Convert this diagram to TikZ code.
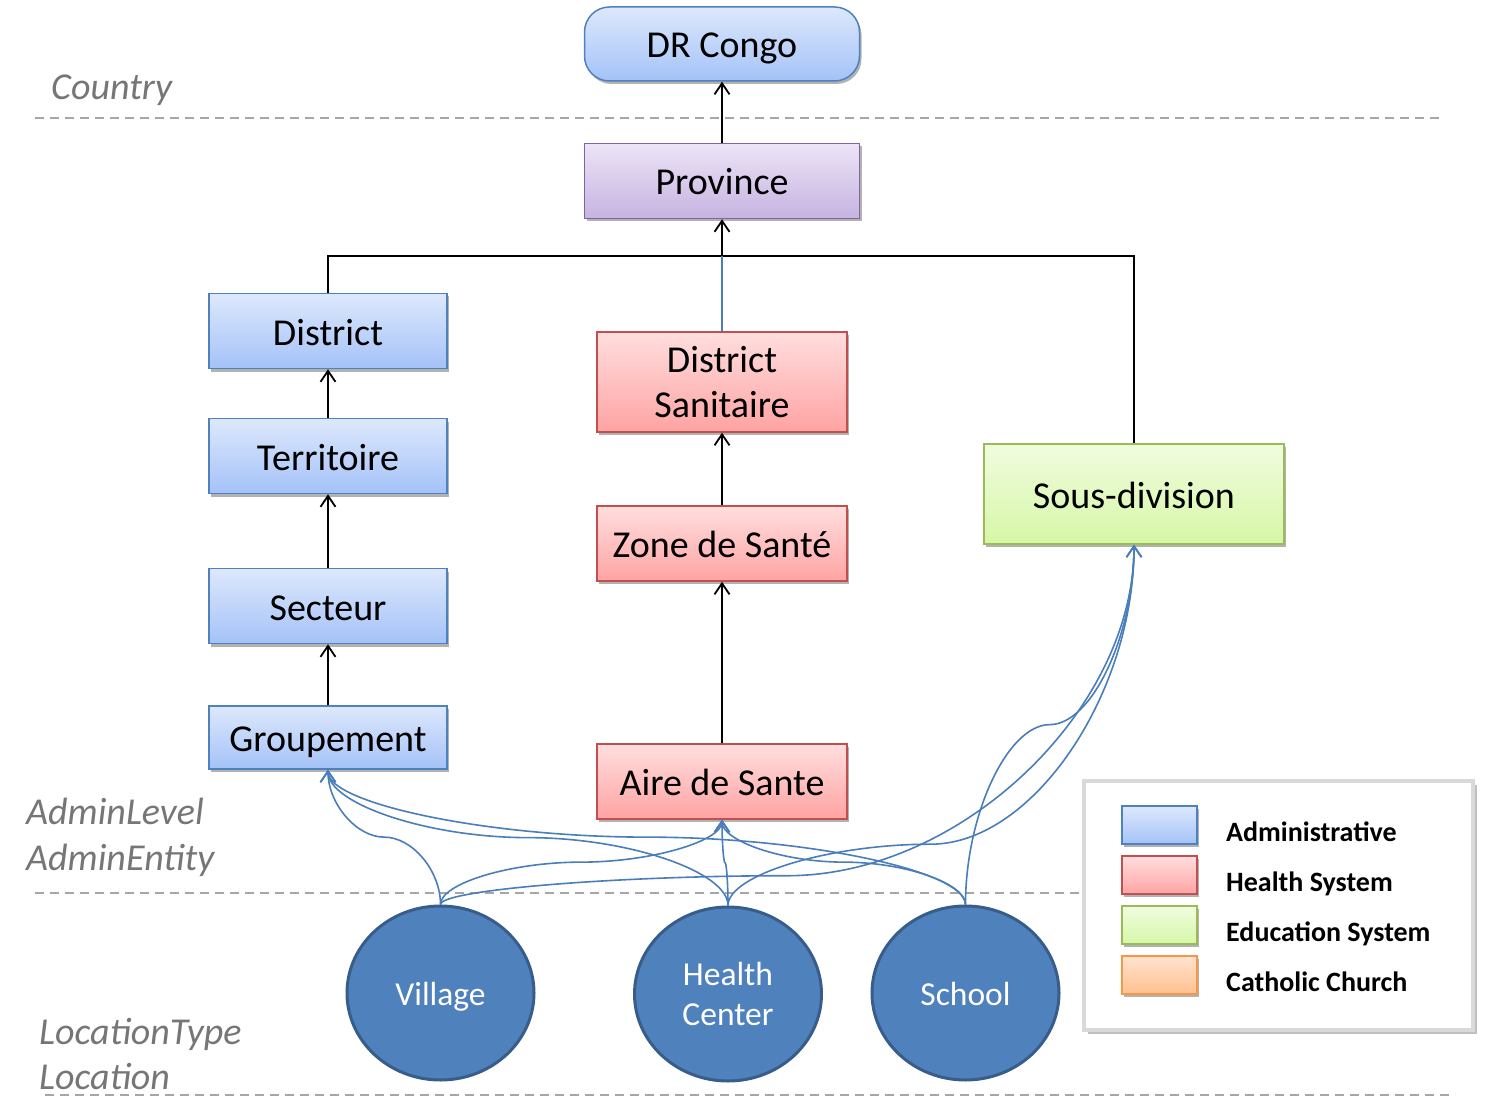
\documentclass[tikz,border=0pt]{standalone}
\usepackage{fontspec}
\setmainfont{Carlito}
\usetikzlibrary{positioning,arrows.meta,calc,shapes.geometric,shadows}

\definecolor{admline}{HTML}{4F81BD}
\definecolor{admtop}{HTML}{DDE8FC}
\definecolor{admbot}{HTML}{A4C2F8}
\definecolor{hlthline}{HTML}{C0504D}
\definecolor{hlthtop}{HTML}{FFDEDE}
\definecolor{hlthbot}{HTML}{FFA3A3}
\definecolor{eduline}{HTML}{9BBB59}
\definecolor{edutop}{HTML}{F0FCDF}
\definecolor{edubot}{HTML}{D6F7A6}
\definecolor{cathline}{HTML}{F79646}
\definecolor{cathtop}{HTML}{FFE3D0}
\definecolor{cathbot}{HTML}{FFC08E}
\definecolor{provline}{HTML}{8064A2}
\definecolor{provtop}{HTML}{ECE4F6}
\definecolor{provbot}{HTML}{C6B3E1}
\definecolor{locfill}{HTML}{4F81BD}
\definecolor{locline}{HTML}{385D8A}
\definecolor{lnkblue}{HTML}{4A7EBB}
\definecolor{sepgray}{HTML}{A6A6A6}
\definecolor{lvlgray}{HTML}{767676}

\tikzset{
  boxbase/.style={draw, line width=1.5pt, font=\fontsize{38}{45}\selectfont,
    inner sep=0pt, text height=34pt, text depth=6pt,
    drop shadow={shadow xshift=2pt, shadow yshift=-3pt, opacity=.3, fill=black}},
  twoline/.style={align=center, text height=, text depth=},
  admbox/.style={boxbase, draw=admline, top color=admtop, bottom color=admbot,
    minimum width=238pt, minimum height=75pt},
  hlthbox/.style={boxbase, draw=hlthline, top color=hlthtop, bottom color=hlthbot,
    minimum width=250pt, minimum height=75pt},
  edubox/.style={boxbase, draw=eduline, top color=edutop, bottom color=edubot,
    minimum width=300pt, minimum height=100pt},
  provbox/.style={boxbase, draw=provline, top color=provtop, bottom color=provbot,
    minimum width=275pt, minimum height=75pt},
  drbox/.style={admbox, rounded corners=25pt, minimum width=275pt, minimum height=74pt},
  locnode/.style={ellipse, draw=locline, fill=locfill, line width=3pt,
    minimum width=187pt, minimum height=174pt, inner sep=0pt,
    text height=30pt, text depth=5pt,
    text=white, font=\fontsize{33.5}{40}\selectfont},
  legbox/.style={draw=black!15, fill=white, line width=4pt,
    minimum width=389pt, minimum height=249pt,
    drop shadow={shadow xshift=4pt, shadow yshift=-4pt, opacity=.25, fill=black}},
  legsw/.style={draw, line width=1.5pt, minimum width=75pt, minimum height=38pt,
    inner sep=0pt,
    drop shadow={shadow xshift=2pt, shadow yshift=-3pt, opacity=.3, fill=black}},
  legtxt/.style={anchor=base west, inner sep=0pt, font=\fontsize{28}{34}\selectfont\bfseries},
  lvltxt/.style={anchor=base west, inner sep=0pt, text=lvlgray,
    font=\fontsize{38}{44}\selectfont\itshape},
  sepline/.style={draw=sepgray, line width=1.8pt, dash pattern=on 9pt off 6pt},
  uparr/.style={-{Straight Barb[length=11pt,width=15pt]}, line width=1.8pt},
  treeline/.style={line width=1.8pt},
  dslink/.style={draw=lnkblue, line width=1.4pt},
  % curved connector: vertical ends, level part at fraction #1 of the height
  loclink/.style={-{Straight Barb[length=11pt,width=15pt]}, draw=lnkblue, line width=1.6pt,
    to path={let \p1=(\tikztostart), \p2=(\tikztotarget),
      \p3=($(\tikztostart)!#1!(\tikztotarget)$) in
      .. controls (\x1,{(\y1+\y3)/2}) and ({(3*\x1+\x2)/4},\y3) .. ({(\x1+\x2)/2},\y3)
      .. controls ({(\x1+3*\x2)/4},\y3) and (\x2,{(\y3+\y2)/2}) .. (\tikztotarget)}},
  loclink/.default=0.5,
}

\begin{document}
\begin{tikzpicture}[x=1pt, y=-1pt]
  \useasboundingbox (0,0) rectangle (1488,1107);

  % ---- level separators ----
  \draw[sepline] (35,118) -- (1443,118);
  \draw[sepline] (35,893) -- (1443,893);
  \draw[sepline] (45,1095) -- (1455,1095);

  % ---- level names ----
  \node[lvltxt] (lvcountry) at (51,100)  {Country};
  \node[lvltxt] (lvalevel)  at (26,824)  {AdminLevel};
  \node[lvltxt] (lvaentity) at (26,870)  {AdminEntity};
  \node[lvltxt] (lvltype)   at (39,1044) {LocationType};
  \node[lvltxt] (lvloc)     at (39,1089) {Location};

  % ---- country / province ----
  \node[drbox]   (drc)  at (722,44)  {DR Congo};
  \node[provbox] (prov) at (722,181) {Province};

  % ---- administrative chain (left) ----
  \node[admbox] (dist) at (328,331)   {District};
  \node[admbox] (terr) at (328,456)   {Territoire};
  \node[admbox] (sect) at (328,606)   {Secteur};
  \node[admbox, minimum height=63pt] (grp) at (328,737.5) {Groupement};

  % ---- health chain (middle) ----
  \node[hlthbox, twoline, minimum height=100pt] (dsan) at (722,382) {District\\Sanitaire};
  \node[hlthbox] (zone) at (722,543.5) {Zone de Santé};
  \node[hlthbox] (aire) at (722,781.5) {Aire de Sante};

  % ---- education (right) ----
  \node[edubox] (sdiv) at (1134,494) {Sous-division};

  % ---- locations ----
  \node[locnode] (vil) at (440.5,993) {Village};
  \node[locnode, twoline] (hc)  at (728,994)   {Health\\Center};
  \node[locnode] (sch) at (965.5,993) {School};

  % ---- legend ----
  \node[legbox] (leg) at (1278.5,905.5) {};
  \node[legsw, draw=admline, top color=admtop, bottom color=admbot]    (swadm)  at (1159.5,825) {};
  \node[legsw, draw=hlthline, top color=hlthtop, bottom color=hlthbot] (swhlth) at (1159.5,875) {};
  \node[legsw, draw=eduline, top color=edutop, bottom color=edubot]    (swedu)  at (1159.5,925) {};
  \node[legsw, draw=cathline, top color=cathtop, bottom color=cathbot] (swcath) at (1159.5,975) {};
  \node[legtxt] (lbadm)  at (1226,841) {Administrative};
  \node[legtxt] (lbhlth) at (1226,891) {Health System};
  \node[legtxt] (lbedu)  at (1226,941) {Education System};
  \node[legtxt] (lbcath) at (1226,991) {Catholic Church};

  % ---- hierarchy edges ----
  \coordinate (junc) at (722,256);
  \draw[treeline] (dist.north) |- (junc) -| (sdiv.north);
  \draw[dslink] (dsan.north) -- (junc);
  \draw[uparr] (junc) -- (prov.south);
  \draw[uparr] (prov) -- (drc);
  \draw[uparr] (terr) -- (dist);
  \draw[uparr] (sect) -- (terr);
  \draw[uparr] (grp)  -- (sect);
  \draw[uparr] (zone) -- (dsan);
  \draw[uparr] (aire) -- (zone);

  % ---- location links ----
  \draw[loclink] (vil.north) to (grp.south);
  \draw[loclink] (hc.north)  to (grp.south);
  \draw[loclink] (sch.north) to (grp.south);
  \draw[loclink] (vil.north) to (aire.south);
  \draw[loclink] (hc.north)  to (aire.south);
  \draw[loclink] (sch.north) to (aire.south);
  \draw[loclink=0.08] (vil.north) to (sdiv.south);
  \draw[loclink=0.17] (hc.north)  to (sdiv.south);
  \draw[loclink] (sch.north) to (sdiv.south);
\end{tikzpicture}
\end{document}
